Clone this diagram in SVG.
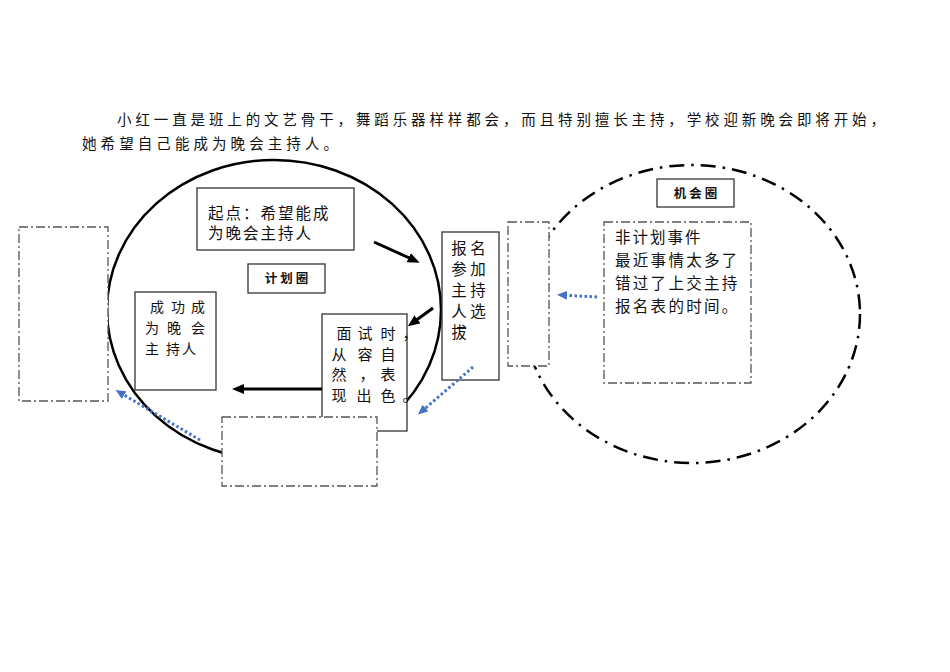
<svg xmlns="http://www.w3.org/2000/svg" width="950" height="672" viewBox="0 0 950 672">
<defs>
<style>
text{font-family:"Noto Sans CJK SC","Noto Sans",sans-serif;fill:#111}
.para{font-size:14.5px}
.t16{font-size:15.5px}
.t15{font-size:15px}
.t14{font-size:14px}
.lbl{font-size:12.5px;font-weight:bold;letter-spacing:3px}
.box{fill:#fff;stroke:#333;stroke-width:1.3}
.dbox{fill:#fff;stroke:#555;stroke-width:1.3;stroke-dasharray:9 3 2 3}
.arrow{stroke:#000;stroke-width:3;fill:none;marker-end:url(#ah)}
.blue{stroke:#4472C4;stroke-width:3;fill:none;stroke-dasharray:2.5 2.5;marker-end:url(#bh)}
</style>
<marker id="ah" viewBox="0 0 12 10" refX="8" refY="5" markerWidth="12" markerHeight="10" markerUnits="userSpaceOnUse" orient="auto">
<path d="M0,0 L12,5 L0,10 z" fill="#000"/>
</marker>
<marker id="bh" viewBox="0 0 10 9" refX="6" refY="4.5" markerWidth="10" markerHeight="9" markerUnits="userSpaceOnUse" orient="auto">
<path d="M0,0 L10,4.5 L0,9 z" fill="#4472C4"/>
</marker>
</defs>
<rect width="950" height="672" fill="#fff"/>
<g id="paragraph">
<text class="para" x="117" y="125" textLength="768" lengthAdjust="spacing">小红一直是班上的文艺骨干，舞蹈乐器样样都会，而且特别擅长主持，学校迎新晚会即将开始，</text>
<text class="para" x="82" y="149" textLength="256" lengthAdjust="spacing">她希望自己能成为晚会主持人。</text>
</g>
<g id="plan-circle"><ellipse cx="274" cy="310" rx="167" ry="150" fill="none" stroke="#000" stroke-width="2.5"/></g>
<g id="chance-circle"><ellipse cx="692" cy="314" rx="168" ry="149" fill="none" stroke="#000" stroke-width="2.5" stroke-dasharray="15 7 2.5 7"/></g>
<g id="start">
<rect class="box" x="197" y="188" width="157" height="62"/>
<text class="t16" x="208" y="219" letter-spacing="2">起点：希望能成</text>
<text class="t16" x="208" y="239" letter-spacing="2">为晚会主持人</text>
</g>
<g id="plan-label">
<rect class="box" x="248" y="264" width="77" height="29"/>
<text class="lbl" x="288" y="283" text-anchor="middle">计划圈</text>
</g>
<g id="success">
<rect class="box" x="135" y="292" width="81" height="98"/>
<text class="t14" text-anchor="middle"><tspan x="157" y="312">成</tspan><tspan x="178" y="312">功</tspan><tspan x="198" y="312">成</tspan><tspan x="152" y="333">为</tspan><tspan x="174" y="333">晚</tspan><tspan x="198" y="333">会</tspan><tspan x="152" y="354">主</tspan><tspan x="173" y="354">持</tspan><tspan x="189" y="354">人</tspan></text>
</g>
<g id="left-empty"><rect class="dbox" x="19" y="227" width="89" height="174"/></g>
<g id="signup">
<rect class="box" x="442" y="232" width="57" height="148"/>
<text class="t16" text-anchor="middle"><tspan x="459" y="254">报</tspan><tspan x="478" y="254">名</tspan><tspan x="459" y="275">参</tspan><tspan x="478" y="275">加</tspan><tspan x="459" y="296">主</tspan><tspan x="478" y="296">持</tspan><tspan x="459" y="317">人</tspan><tspan x="478" y="317">选</tspan><tspan x="459" y="338">拔</tspan></text>
</g>
<g id="mid-empty"><rect class="dbox" x="508" y="222" width="41" height="144"/></g>
<g id="interview">
<rect class="box" x="322" y="314" width="85" height="117"/>
<text class="t15" text-anchor="middle"><tspan x="344" y="339">面</tspan><tspan x="365" y="339">试</tspan><tspan x="388" y="339">时</tspan><tspan x="410" y="339">，</tspan><tspan x="339" y="360">从</tspan><tspan x="365" y="360">容</tspan><tspan x="388" y="360">自</tspan><tspan x="339" y="380">然</tspan><tspan x="367" y="380">，</tspan><tspan x="388" y="380">表</tspan><tspan x="339" y="401">现</tspan><tspan x="364" y="401">出</tspan><tspan x="388" y="401">色</tspan><tspan x="410" y="401">。</tspan></text>
</g>
<g id="bottom-empty"><rect class="dbox" x="222" y="417" width="155" height="69"/></g>
<g id="chance-label">
<rect class="box" x="657" y="179" width="77" height="28"/>
<text class="lbl" x="697" y="198" text-anchor="middle">机会圈</text>
</g>
<g id="unplanned">
<rect class="dbox" x="604" y="222" width="147" height="161"/>
<text class="t16" x="615" y="243" letter-spacing="2">非计划事件</text>
<text class="t16" x="615" y="266" letter-spacing="2.3">最近事情太多了</text>
<text class="t16" x="615" y="289" letter-spacing="2.3">错过了上交主持</text>
<text class="t16" x="615" y="312" letter-spacing="2.3">报名表的时间。</text>
</g>
<g id="connectors">
<line class="arrow" x1="374" y1="242" x2="416" y2="261"/>
<line class="arrow" x1="433" y1="308" x2="411" y2="324"/>
<line class="arrow" x1="322" y1="389" x2="236" y2="389"/>
<line class="blue" x1="473" y1="367" x2="421" y2="412"/>
<line class="blue" x1="200" y1="440" x2="119" y2="392"/>
<line class="blue" x1="597" y1="297" x2="561" y2="295"/>
</g>
</svg>
